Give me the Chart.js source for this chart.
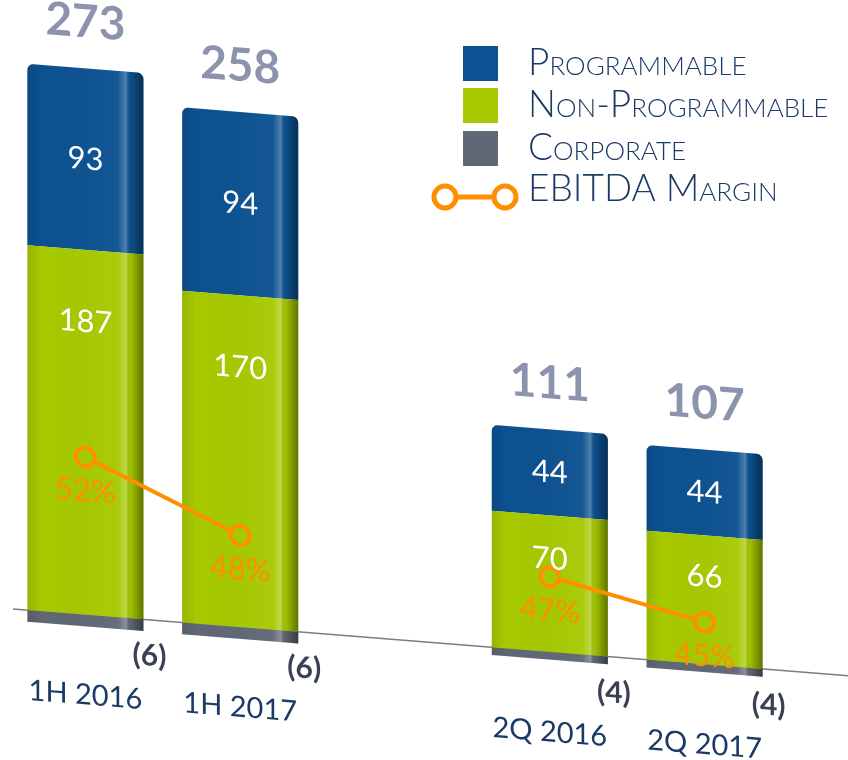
<!DOCTYPE html>
<html>
<head>
<meta charset="utf-8">
<title>EBITDA breakdown</title>
<script src="https://cdn.jsdelivr.net/npm/chart.js@4.4.1/dist/chart.umd.min.js"></script>
<style>
  html, body { margin: 0; padding: 0; background: #fff; }
  #wrap { width: 848px; height: 760px; position: relative; }
</style>
</head>
<body>
<div id="wrap"><canvas id="chart"></canvas></div>
<script>
// ---- data ----
const periods = ["1H 2016", "1H 2017", "", "2Q 2016", "2Q 2017"];
const nonProgrammable = [187, 170, null, 70, 66];
const programmable = [93, 94, null, 44, 44];
const corporate = [-6, -6, null, -4, -4];
const totals = [273, 258, null, 111, 107];
const ebitdaMargin = [52, 48, null, 47, 45];

const COLORS = {
  blue: "#0c5191",
  green: "#a6c900",
  grey: "#606775",
  orange: "#ff8f00",
  navy: "#1b3a66",
  total: "#8c94ad",
  corp: "#3b4154",
  axis: "#7a7d82",
};

// the reference is drawn in a slight perspective: everything is sheared downwards to the right
const SHEAR = 0.08;
const PIVOT_X = 92;

function shadeBar(ctx, bar, radius) {
  const left = bar.x - bar.width / 2;
  const top = Math.min(bar.y, bar.base);
  const h = Math.abs(bar.base - bar.y);
  const g = ctx.createLinearGradient(left, 0, left + bar.width, 0);
  g.addColorStop(0, "rgba(0,0,0,0.10)");
  g.addColorStop(0.12, "rgba(0,0,0,0)");
  g.addColorStop(0.78, "rgba(255,255,255,0.04)");
  g.addColorStop(0.85, "rgba(255,255,255,0.28)");
  g.addColorStop(0.89, "rgba(0,0,0,0.04)");
  g.addColorStop(1, "rgba(0,0,0,0.42)");
  ctx.save();
  ctx.beginPath();
  ctx.roundRect(left, top, bar.width, h, [radius, radius, 0, 0]);
  ctx.fillStyle = g;
  ctx.fill();
  ctx.restore();
}

const perspectivePlugin = {
  id: "perspective",
  beforeDraw(chart) {
    const c = chart.ctx;
    c.save();
    c.transform(1, SHEAR, 0, 1, 0, -SHEAR * PIVOT_X);
  },
  beforeDatasetsDraw(chart) {
    // base line at zero
    const c = chart.ctx;
    const y0 = chart.scales.y.getPixelForValue(0);
    c.save();
    c.strokeStyle = COLORS.axis;
    c.lineWidth = 1.5;
    c.beginPath();
    c.moveTo(13, y0);
    c.lineTo(chart.width + 10, y0);
    c.stroke();
    c.restore();
  },
  afterDatasetDraw(chart, args) {
    const ds = chart.data.datasets[args.index];
    if (ds.type === "line") return;
    args.meta.data.forEach((el, i) => {
      if (ds.data[i] == null) return;
      const p = el.getProps(["x", "y", "base", "width"], true);
      shadeBar(chart.ctx, p, ds.shadeRadius || 0);
    });
  },
  afterDatasetsDraw(chart) {
    const c = chart.ctx;
    const y0 = chart.scales.y.getPixelForValue(0);
    const metaNP = chart.getDatasetMeta(0);
    const metaP = chart.getDatasetMeta(1);
    const metaM = chart.getDatasetMeta(3);
    c.save();
    c.textAlign = "center";
    c.textBaseline = "middle";
    periods.forEach((_, i) => {
      if (programmable[i] == null) return;
      const np = metaNP.data[i].getProps(["x", "y", "base", "width"], true);
      const pr = metaP.data[i].getProps(["x", "y", "base", "width"], true);
      // segment values
      c.fillStyle = "#ffffff";
      c.font = "31px Lato";
      c.fillText(String(programmable[i]), pr.x, (pr.y + pr.base) / 2);
      const hNP = np.base - np.y;
      c.fillText(String(nonProgrammable[i]), np.x, np.y + Math.min(hNP * 0.32, 72));
      // totals
      c.fillStyle = COLORS.total;
      c.font = "bold 46px Lato";
      c.fillText(String(totals[i]), pr.x, pr.y - 46);
      // corporate
      c.fillStyle = COLORS.corp;
      c.font = "bold 30px Lato";
      c.fillText("(" + Math.abs(corporate[i]) + ")", pr.x + pr.width / 2 + 6, y0 + 36);
      // margin
      const pt = metaM.data[i];
      c.fillStyle = COLORS.orange;
      c.font = "31px Lato";
      c.fillText(ebitdaMargin[i] + "%", pt.x, pt.y + 34);
    });
    c.restore();
  },
  afterDraw(chart) {
    const c = chart.ctx;
    c.restore(); // end of shear
    // legend, upright
    const order = [1, 0, 2, 3];
    const boxX = 463, box = 35, textX = 528;
    const baselines = [75, 117, 160, 201];
    c.save();
    c.font = "small-caps 300 37px Lato";
    try { c.fontVariantCaps = "small-caps"; } catch (e) {}
    c.textAlign = "left";
    c.textBaseline = "alphabetic";
    order.forEach((di, row) => {
      const ds = chart.data.datasets[di];
      const yb = baselines[row];
      if (ds.type === "line") {
        const cy = yb - 4;
        c.strokeStyle = ds.borderColor;
        c.lineWidth = 5;
        c.beginPath();
        c.moveTo(445, cy);
        c.lineTo(505, cy);
        c.stroke();
        [445, 505].forEach((cx) => {
          c.beginPath();
          c.arc(cx, cy, 11, 0, Math.PI * 2);
          c.fillStyle = "#ffffff";
          c.fill();
          c.stroke();
        });
      } else {
        c.fillStyle = ds.backgroundColor;
        c.fillRect(boxX, yb - 29, box, box);
      }
      c.fillStyle = COLORS.navy;
      c.fillText(ds.label, textX, yb);
    });
    c.restore();
  },
};

new Chart(document.getElementById("chart"), {
  type: "bar",
  data: {
    labels: periods,
    datasets: [
      {
        label: "Non-Programmable",
        data: nonProgrammable,
        backgroundColor: COLORS.green,
        stack: "ebitda",
        order: 1,
      },
      {
        label: "Programmable",
        data: programmable,
        backgroundColor: COLORS.blue,
        stack: "ebitda",
        order: 1,
        borderRadius: { topLeft: 6, topRight: 6, bottomLeft: 0, bottomRight: 0 },
        shadeRadius: 6,
      },
      {
        label: "Corporate",
        data: corporate,
        backgroundColor: COLORS.grey,
        stack: "ebitda",
        order: 1,
      },
      {
        type: "line",
        label: "EBITDA Margin",
        data: ebitdaMargin,
        yAxisID: "y1",
        order: 0,
        borderColor: COLORS.orange,
        borderWidth: 4,
        pointRadius: 9.5,
        pointBorderWidth: 4,
        pointBorderColor: COLORS.orange,
        pointBackgroundColor: COLORS.green,
        spanGaps: false,
        tension: 0,
      },
    ],
  },
  options: {
    responsive: true,
    maintainAspectRatio: false,
    animation: false,
    categoryPercentage: 1,
    barPercentage: 0.75,
    layout: { autoPadding: false, padding: { left: 8, right: 66, top: 12, bottom: 41 } },
    plugins: {
      legend: { display: false },
      tooltip: { enabled: false },
    },
    scales: {
      x: {
        stacked: true,
        grid: { display: false, drawTicks: false },
        border: { display: false },
        ticks: {
          color: COLORS.navy,
          font: { family: "Lato", size: 29 },
          padding: 6,
        },
      },
      y: { stacked: true, display: false, min: -29.2, max: 309.2 },
      y1: { display: false, min: 39, max: 79 },
    },
  },
  plugins: [perspectivePlugin],
});
</script>
</body>
</html>
